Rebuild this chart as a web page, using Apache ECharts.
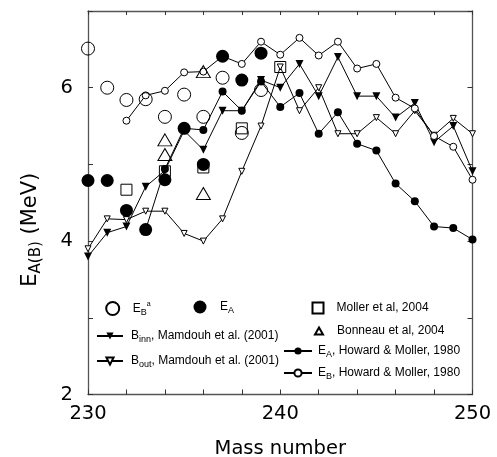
<!DOCTYPE html>
<html><head><meta charset="utf-8">
<script src="https://cdn.jsdelivr.net/npm/echarts@6/dist/echarts.min.js"></script>
<style>html,body{margin:0;padding:0;background:#fff}#c{width:497px;height:457px}</style>
</head><body><div id="c"></div>
<script>
// Experimental / derived barrier values (large symbols)
const expX = [230,231,232,233,234,235,236,237,238,239];
const ebExp = [6.51,6.00,5.84,5.85,5.62,5.91,5.62,6.13,5.41,5.97];
const eaExp = [4.79,4.79,4.40,4.15,4.80,5.47,5.00,6.41,6.10,6.45];
// Moller et al, 2004
const mollerX = [232,234,236,238,240];
const mollerY = [4.67,4.91,4.96,5.47,6.27];
// Bonneau et al, 2004
const bonneauX = [234,234,236,236];
const bonneauY = [5.32,5.13,6.21,4.62];
// Mamdouh et al. (2001)
const mamX = [230,231,232,233,234,235,236,237,238,239,240,241,242,243,244,245,246,247,248,249,250];
const bInn = [3.80,4.11,4.19,4.71,4.92,5.44,5.19,5.70,5.70,6.10,6.00,6.31,5.89,6.40,5.89,5.89,5.61,5.80,5.29,5.50,4.91];
const bOut = [3.90,4.29,4.28,4.39,4.39,4.10,4.00,4.29,4.91,5.50,6.27,5.70,6.00,5.40,5.40,5.61,5.40,5.70,5.38,5.60,5.40];
// Howard & Moller, 1980
const hmEaX = [233,234,235,236,237,238,239,240,241,242,243,244,245,246,247,248,249,250];
const hmEa = [4.15,4.94,5.47,5.45,5.95,5.70,6.08,5.75,5.93,5.40,5.68,5.27,5.18,4.75,4.52,4.19,4.17,4.02];
const hmEbX = [232,233,234,235,236,237,238,239,240,241,242,243,244,245,246,247,248,249,250];
const hmEb = [5.57,5.90,5.96,6.20,6.21,6.41,6.31,6.60,6.43,6.65,6.42,6.60,6.25,6.31,5.87,5.73,5.37,5.23,4.80];

const zip = (xs, ys) => xs.map((x, i) => [x, ys[i]]);
const FONT = 'Liberation Sans, Arial, Helvetica, sans-serif';
const AXFONT = 'DejaVu Sans, Liberation Sans, sans-serif';
const rich = {
  n: {fontSize: 12, fontFamily: FONT, color: '#000'},
  sub: {fontSize: 9, fontFamily: FONT, color: '#000', padding: [8, 0, 0, 0]},
  sup: {fontSize: 7, fontFamily: FONT, color: '#000', padding: [0, 0, 9, 0]}
};
function mkLegend(name, left, top, w, h, fmt, textPad) {
  return {
    data: [name], left: left, top: top, padding: 0, itemWidth: w, itemHeight: h,
    selectedMode: false, formatter: () => fmt,
    textStyle: {fontSize: 12, fontFamily: FONT, color: '#000', rich: rich, padding: [0, 0, 0, textPad || 0]}
  };
}

const chart = echarts.init(document.getElementById('c'));
const axisLine = {show: true, lineStyle: {color: '#555', width: 1.3}};
chart.setOption({
  animation: false,
  backgroundColor: '#fff',
  grid: {left: 88, right: 24.5, top: 11, bottom: 62.5, containLabel: false, outerBoundsMode: 'none'},
  xAxis: [{
    type: 'value', min: 230, max: 250, interval: 2,
    axisLine: axisLine, splitLine: {show: false},
    axisTick: {inside: true, length: 5, lineStyle: {color: '#333'}},
    axisLabel: {formatter: v => (v % 10 === 0 ? String(v) : ''), fontSize: 19.5, fontFamily: AXFONT, color: '#000', margin: 9},
    name: 'Mass number', nameLocation: 'middle', nameGap: 44,
    nameTextStyle: {fontSize: 19.5, fontFamily: AXFONT, color: '#000'}
  }, {
    type: 'value', position: 'top', min: 230, max: 250, interval: 2,
    axisLine: axisLine, splitLine: {show: false},
    axisTick: {inside: true, length: 4, lineStyle: {color: '#333'}}, axisLabel: {show: false}
  }],
  yAxis: [{
    type: 'value', min: 2, max: 7, interval: 1,
    axisLine: axisLine, splitLine: {show: false},
    axisTick: {inside: true, length: 5, lineStyle: {color: '#333'}},
    axisLabel: {formatter: v => (v % 2 === 0 && v < 7 ? String(v) : ''), fontSize: 19.5, fontFamily: AXFONT, color: '#000', margin: 15},
    name: '{n|E}{s|A(B)}{n| (MeV)}', nameLocation: 'middle', nameGap: 44,
    nameTextStyle: {fontSize: 21, fontFamily: AXFONT, color: '#000', padding: [0, 54, 0, 0],
      rich: {n: {fontSize: 21, fontFamily: AXFONT, color: '#000'}, s: {fontSize: 15, fontFamily: AXFONT, color: '#000', padding: [11, 0, 0, 0]}}}
  }, {
    type: 'value', position: 'right', min: 2, max: 7, interval: 1,
    axisLine: axisLine, splitLine: {show: false},
    axisTick: {inside: true, length: 5, lineStyle: {color: '#333'}}, axisLabel: {show: false}
  }],
  legend: [
    mkLegend('EBa', 105.2, 300.5, 13, 13, '{n|E}{sub|B}{sup|a}', 8.5),
    mkLegend('EA', 193.5, 300.5, 13, 13, '{n|E}{sub|A}', 8.5),
    mkLegend('Moller', 311.5, 301.5, 11, 11, '{n|Moller et al, 2004}', 8),
    mkLegend('Bonneau', 314, 325, 8, 7, '{n|Bonneau et al, 2004}', 9),
    mkLegend('Binn', 96, 330, 26, 9, '{n|B}{sub|inn}{n|, Mamdouh et al. (2001)}', 3),
    mkLegend('Bout', 96, 355, 26, 9, '{n|B}{sub|out}{n|, Mamdouh et al. (2001)}', 3),
    mkLegend('HMEA', 283, 345, 28, 9, '{n|E}{sub|A}{n|, Howard & Moller, 1980}', 1),
    mkLegend('HMEB', 283, 367, 28, 9, '{n|E}{sub|B}{n|, Howard & Moller, 1980}', 1)
  ],
  series: [
    {name: 'Bout', type: 'line', data: zip(mamX, bOut), symbol: 'triangle', symbolRotate: 180, symbolSize: 6,
      lineStyle: {color: '#000', width: 1}, itemStyle: {color: '#fff', borderColor: '#000', borderWidth: 1}, z: 2},
    {name: 'Binn', type: 'line', data: zip(mamX, bInn), symbol: 'triangle', symbolRotate: 180, symbolSize: 8,
      lineStyle: {color: '#000', width: 1}, itemStyle: {color: '#000', borderColor: '#000', borderWidth: 0}, z: 2},
    {name: 'HMEA', type: 'line', data: zip(hmEaX, hmEa), symbol: 'circle', symbolSize: 8,
      lineStyle: {color: '#000', width: 1}, itemStyle: {color: '#000', borderColor: '#000', borderWidth: 0}, z: 3},
    {name: 'HMEB', type: 'line', data: zip(hmEbX, hmEb), symbol: 'circle', symbolSize: 7,
      lineStyle: {color: '#000', width: 1}, itemStyle: {color: '#fff', borderColor: '#000', borderWidth: 1}, z: 3},
    {name: 'Moller', type: 'scatter', data: zip(mollerX, mollerY), symbol: 'rect', symbolSize: 11,
      itemStyle: {color: 'rgba(255,255,255,0)', borderColor: '#000', borderWidth: 1, opacity: 1}, z: 4},
    {name: 'Bonneau', type: 'scatter', data: zip(bonneauX, bonneauY), symbol: 'triangle', symbolSize: [14, 12],
      itemStyle: {color: 'rgba(255,255,255,0)', borderColor: '#000', borderWidth: 1, opacity: 1}, z: 4},
    {name: 'EBa', type: 'scatter', data: zip(expX, ebExp), symbol: 'circle', symbolSize: 13,
      itemStyle: {color: 'rgba(255,255,255,0)', borderColor: '#000', borderWidth: 1, opacity: 1}, z: 5},
    {name: 'EA', type: 'scatter', data: zip(expX, eaExp), symbol: 'circle', symbolSize: 13,
      itemStyle: {color: '#000', opacity: 1}, z: 5}
  ]
});
</script></body></html>
